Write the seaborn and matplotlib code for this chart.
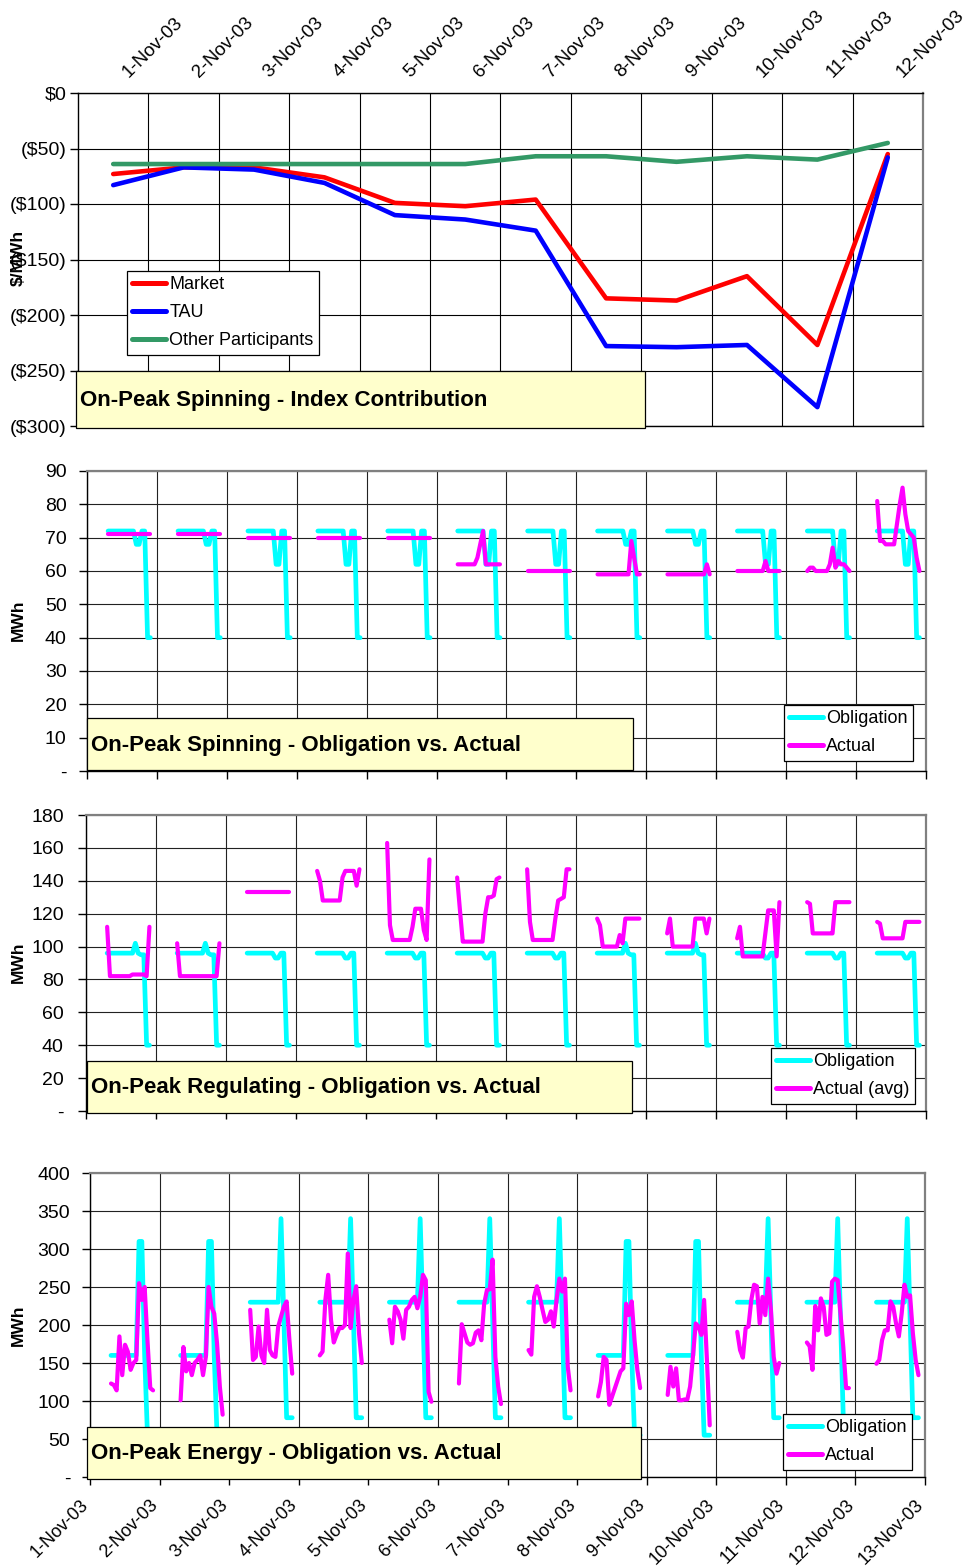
import numpy as np
import pandas as pd
import matplotlib
matplotlib.use("Agg")
import matplotlib.pyplot as plt
import matplotlib.transforms as mtrans
from matplotlib.lines import Line2D
from matplotlib.patches import Rectangle
import seaborn as sns

# ---------------- DATA ----------------
TOP_DAYS = ["1-Nov-03", "2-Nov-03", "3-Nov-03", "4-Nov-03", "5-Nov-03", "6-Nov-03",
            "7-Nov-03", "8-Nov-03", "9-Nov-03", "10-Nov-03", "11-Nov-03", "12-Nov-03"]
BOTTOM_DAYS = TOP_DAYS + ["13-Nov-03"]

market = [-73, -67, -67, -76, -99, -102, -96, -185, -187, -165, -227, -55]
tau = [-83, -67, -69, -81, -110, -114, -124, -228, -229, -227, -283, -58]
other = [-64, -64, -64, -64, -64, -64, -57, -57, -62, -57, -60, -45]

# on-peak hours (16 per day)
HOURS = np.linspace(7.25, 21.75, 16)

SPIN_OBL = [
    [72, 72, 72, 72, 72, 72, 72, 72, 72, 72, 68, 68, 72, 72, 40, 40],
    [72, 72, 72, 72, 72, 72, 72, 72, 72, 72, 68, 68, 72, 72, 40, 40],
    [72, 72, 72, 72, 72, 72, 72, 72, 72, 72, 62, 62, 72, 72, 40, 40],
    [72, 72, 72, 72, 72, 72, 72, 72, 72, 72, 62, 62, 72, 72, 40, 40],
    [72, 72, 72, 72, 72, 72, 72, 72, 72, 72, 62, 62, 72, 72, 40, 40],
    [72, 72, 72, 72, 72, 72, 72, 72, 72, 72, 62, 62, 72, 72, 40, 40],
    [72, 72, 72, 72, 72, 72, 72, 72, 72, 72, 62, 62, 72, 72, 40, 40],
    [72, 72, 72, 72, 72, 72, 72, 72, 72, 72, 68, 68, 72, 72, 40, 40],
    [72, 72, 72, 72, 72, 72, 72, 72, 72, 72, 68, 68, 72, 72, 40, 40],
    [72, 72, 72, 72, 72, 72, 72, 72, 72, 72, 62, 62, 72, 72, 40, 40],
    [72, 72, 72, 72, 72, 72, 72, 72, 72, 72, 62, 62, 72, 72, 40, 40],
    [72, 72, 72, 72, 72, 72, 72, 72, 72, 72, 62, 62, 72, 72, 40, 40],
]
SPIN_ACT = [
    [71, 71, 71, 71, 71, 71, 71, 71, 71, 71, 71, 71, 71, 71, 71, 71],
    [71, 71, 71, 71, 71, 71, 71, 71, 71, 71, 71, 71, 71, 71, 71, 71],
    [70, 70, 70, 70, 70, 70, 70, 70, 70, 70, 70, 70, 70, 70, 70, 70],
    [70, 70, 70, 70, 70, 70, 70, 70, 70, 70, 70, 70, 70, 70, 70, 70],
    [70, 70, 70, 70, 70, 70, 70, 70, 70, 70, 70, 70, 70, 70, 70, 70],
    [62, 62, 62, 62, 62, 62, 62, 64, 68, 72, 62, 62, 62, 62, 62, 62],
    [60, 60, 60, 60, 60, 60, 60, 60, 60, 60, 60, 60, 60, 60, 60, 60],
    [59, 59, 59, 59, 59, 59, 59, 59, 59, 59, 59, 59, 69, 64, 59, 59],
    [59, 59, 59, 59, 59, 59, 59, 59, 59, 59, 59, 59, 59, 59, 62, 59],
    [60, 60, 60, 60, 60, 60, 60, 60, 60, 60, 63, 60, 60, 60, 60, 60],
    [60, 61, 61, 60, 60, 60, 60, 60, 62, 67, 61, 63, 62, 62, 61, 60],
    [81, 69, 69, 68, 68, 68, 68, 74, 80, 85, 77, 72, 71, 70, 64, 60],
]

REG_OBL = [
    [96, 96, 96, 96, 96, 96, 96, 96, 96, 96, 102, 96, 95, 95, 40, 40],
    [96, 96, 96, 96, 96, 96, 96, 96, 96, 96, 102, 96, 95, 95, 40, 40],
    [96, 96, 96, 96, 96, 96, 96, 96, 96, 96, 93, 93, 96, 96, 40, 40],
    [96, 96, 96, 96, 96, 96, 96, 96, 96, 96, 93, 93, 96, 96, 40, 40],
    [96, 96, 96, 96, 96, 96, 96, 96, 96, 96, 93, 93, 96, 96, 40, 40],
    [96, 96, 96, 96, 96, 96, 96, 96, 96, 96, 93, 93, 96, 96, 40, 40],
    [96, 96, 96, 96, 96, 96, 96, 96, 96, 96, 93, 93, 96, 96, 40, 40],
    [96, 96, 96, 96, 96, 96, 96, 96, 96, 96, 102, 96, 95, 95, 40, 40],
    [96, 96, 96, 96, 96, 96, 96, 96, 96, 96, 102, 96, 95, 95, 40, 40],
    [96, 96, 96, 96, 96, 96, 96, 96, 96, 96, 93, 93, 96, 96, 40, 40],
    [96, 96, 96, 96, 96, 96, 96, 96, 96, 96, 93, 93, 96, 96, 40, 40],
    [96, 96, 96, 96, 96, 96, 96, 96, 96, 96, 93, 93, 96, 96, 40, 40],
]
REG_ACT = [
    [112, 82, 82, 82, 82, 82, 82, 82, 82, 83, 83, 83, 83, 83, 82, 112],
    [102, 82, 82, 82, 82, 82, 82, 82, 82, 82, 82, 82, 82, 82, 82, 102],
    [133, 133, 133, 133, 133, 133, 133, 133, 133, 133, 133, 133, 133, 133, 133, 133],
    [146, 140, 128, 128, 128, 128, 128, 128, 128, 142, 146, 146, 146, 146, 137, 147],
    [163, 113, 104, 104, 104, 104, 104, 104, 104, 112, 123, 123, 123, 110, 104, 153],
    [142, 122, 103, 103, 103, 103, 103, 103, 103, 103, 120, 130, 130, 131, 141, 142],
    [147, 115, 104, 104, 104, 104, 104, 104, 104, 104, 117, 128, 129, 130, 147, 147],
    [117, 113, 100, 100, 100, 100, 100, 100, 107, 102, 117, 117, 117, 117, 117, 117],
    [108, 117, 100, 100, 100, 100, 100, 100, 100, 100, 117, 117, 117, 117, 108, 117],
    [105, 112, 94, 94, 94, 94, 94, 94, 94, 94, 108, 122, 122, 122, 94, 127],
    [127, 126, 108, 108, 108, 108, 108, 108, 108, 108, 127, 127, 127, 127, 127, 127],
    [115, 114, 105, 105, 105, 105, 105, 105, 105, 105, 115, 115, 115, 115, 115, 115],
]

EN_OBL = [
    [160, 160, 160, 160, 160, 160, 160, 160, 160, 160, 310, 310, 160, 55, 55, 55],
    [160, 160, 160, 160, 160, 160, 160, 160, 160, 160, 310, 310, 160, 55, 55, 55],
    [230, 230, 230, 230, 230, 230, 230, 230, 230, 230, 230, 340, 210, 78, 78, 78],
    [230, 230, 230, 230, 230, 230, 230, 230, 230, 230, 230, 340, 210, 78, 78, 78],
    [230, 230, 230, 230, 230, 230, 230, 230, 230, 230, 230, 340, 210, 78, 78, 78],
    [230, 230, 230, 230, 230, 230, 230, 230, 230, 230, 230, 340, 210, 78, 78, 78],
    [230, 230, 230, 230, 230, 230, 230, 230, 230, 230, 230, 340, 210, 78, 78, 78],
    [160, 160, 160, 160, 160, 160, 160, 160, 160, 160, 310, 310, 160, 55, 55, 55],
    [160, 160, 160, 160, 160, 160, 160, 160, 160, 160, 310, 310, 160, 55, 55, 55],
    [230, 230, 230, 230, 230, 230, 230, 230, 230, 230, 230, 340, 210, 78, 78, 78],
    [230, 230, 230, 230, 230, 230, 230, 230, 230, 230, 230, 340, 210, 78, 78, 78],
    [230, 230, 230, 230, 230, 230, 230, 230, 230, 230, 230, 340, 210, 78, 78, 78],
]
EN_ACT = [
    [123, 121, 114, 185, 134, 174, 165, 141, 150, 154, 255, 233, 250, 180, 117, 114],
    [101, 171, 139, 150, 134, 150, 154, 160, 134, 158, 250, 224, 215, 176, 119, 82],
    [220, 154, 158, 198, 160, 150, 220, 167, 160, 158, 198, 211, 224, 231, 180, 136],
    [160, 165, 233, 266, 207, 177, 187, 196, 196, 200, 294, 196, 233, 251, 189, 150],
    [207, 176, 224, 218, 207, 182, 220, 224, 233, 237, 222, 237, 266, 259, 112, 99],
    [123, 201, 189, 177, 174, 176, 190, 193, 180, 228, 246, 247, 286, 158, 119, 96],
    [167, 161, 237, 251, 237, 220, 204, 207, 218, 198, 233, 261, 244, 261, 145, 114],
    [106, 125, 158, 154, 95, 106, 117, 128, 139, 143, 228, 213, 231, 180, 141, 117],
    [108, 145, 119, 143, 101, 101, 102, 102, 119, 158, 202, 198, 187, 233, 154, 68],
    [191, 167, 157, 196, 198, 233, 253, 251, 202, 237, 213, 261, 220, 158, 136, 150],
    [177, 172, 141, 225, 193, 235, 224, 187, 189, 257, 261, 259, 215, 171, 117, 117],
    [149, 154, 180, 193, 193, 231, 224, 202, 185, 215, 253, 237, 239, 189, 154, 134],
]

# ---------------- STYLE ----------------
sns.set_theme(style="white")
plt.rcParams["font.family"] = ["Liberation Sans", "DejaVu Sans"]
plt.rcParams["text.color"] = "black"
plt.rcParams["xtick.color"] = "black"
plt.rcParams["ytick.color"] = "black"
plt.rcParams["axes.edgecolor"] = "black"

W, H = 970, 1566
fig = plt.figure(figsize=(W / 100, H / 100), dpi=100)
fig.patch.set_facecolor("white")


def fx(x):
    return x / W


def fy(y):
    return 1 - y / H


def add_axes_px(l, t, r, b):
    return fig.add_axes([fx(l), fy(b), (r - l) / W, (b - t) / H])


def px_offset(dx, dy):
    return mtrans.ScaledTranslation(dx / 100, dy / 100, fig.dpi_scale_trans)


CYAN, MAGENTA = "#00FFFF", "#FF00FF"
TICK_FS = 14
DATE_FS = 13.5
LINE_KW = dict(solid_capstyle="round", solid_joinstyle="round")


def title_box(l, t, r, b, text):
    fig.add_artist(Rectangle((fx(l), fy(b)), (r - l) / W, (b - t) / H,
                             transform=fig.transFigure, facecolor="#FFFFCC",
                             edgecolor="black", lw=0.9, zorder=5))
    fig.text(fx(l + 4), fy((t + b) / 2 + 1), text, ha="left", va="center",
             fontsize=16, fontweight="bold", zorder=6)


def legend_box(ax, l, t, labels, colors):
    handles = [Line2D([0], [0], color=c, lw=3.6, solid_capstyle="round") for c in colors]
    leg = ax.legend(handles, labels, loc="upper left", bbox_to_anchor=(fx(l), fy(t)),
                    bbox_transform=fig.transFigure, frameon=True, fancybox=False,
                    framealpha=1, edgecolor="black", fontsize=13, borderaxespad=0,
                    handlelength=1.85, handletextpad=0.2, borderpad=0.3,
                    labelspacing=0.6)
    leg.get_frame().set_linewidth(0.9)
    leg.set_zorder(10)
    return leg


def style_spines(ax, top_color="#808080"):
    for s in ["left", "bottom"]:
        ax.spines[s].set_color("black")
        ax.spines[s].set_linewidth(1.0)
    for s in ["top", "right"]:
        ax.spines[s].set_color(top_color)
        ax.spines[s].set_linewidth(1.6)


# ---------------- PANEL 1 ----------------
ax1 = add_axes_px(78, 93, 923, 426)
df1 = pd.DataFrame({
    "day": list(range(12)) * 3,
    "value": market + tau + other,
    "series": ["Market"] * 12 + ["TAU"] * 12 + ["Other Participants"] * 12,
})
pal1 = {"Market": "#FF0000", "TAU": "#0000FF", "Other Participants": "#339966"}
sns.lineplot(data=df1, x="day", y="value", hue="series", palette=pal1,
             hue_order=["Market", "TAU", "Other Participants"],
             estimator=None, sort=False, lw=3.3, legend=False, ax=ax1, **LINE_KW)
ax1.set_xlim(-0.5, 11.5)
ax1.set_ylim(-300, 0)
ax1.set_yticks(range(-300, 1, 50))
ax1.set_yticklabels(["\\$0" if v == 0 else "(\\$%d)" % (-v) for v in range(-300, 1, 50)],
                    fontsize=TICK_FS)
ax1.xaxis.tick_top()
ax1.set_xticks(range(12))
ax1.set_xticklabels(TOP_DAYS, fontsize=DATE_FS)
ax1.set_xticks(np.arange(0.5, 11.5, 1), minor=True)
ax1.tick_params(axis="x", which="both", length=0, pad=0)
ax1.tick_params(axis="y", length=6, width=1, direction="out", pad=2, left=True)
for lbl in ax1.get_xticklabels():
    lbl.set_rotation(45)
    lbl.set_ha("left")
    lbl.set_va("bottom")
    lbl.set_rotation_mode("anchor")
    lbl.set_transform(lbl.get_transform() + px_offset(18, 12))
ax1.grid(False)
ax1.grid(which="minor", axis="x", color="black", lw=0.8)
ax1.grid(which="major", axis="y", color="black", lw=0.8)
ax1.set_xlabel("")
ax1.set_ylabel("")
style_spines(ax1)
ax1.spines["top"].set_color("black")
ax1.spines["top"].set_linewidth(1.0)
fig.text(fx(18), fy(258), "\\$/MWh", rotation=90, ha="center", va="center",
         fontsize=12.5, fontweight="bold")
legend_box(ax1, 127, 271, ["Market", "TAU", "Other Participants"],
           ["#FF0000", "#0000FF", "#339966"])
title_box(76, 371, 645, 428, "On-Peak Spinning - Index Contribution")


# ---------------- HOURLY PANELS ----------------
def hourly_frame(days_values, name):
    rows = []
    for d, vals in enumerate(days_values):
        for h, v in zip(HOURS, vals):
            rows.append((d + h / 24.0, v, name, d))
    return pd.DataFrame(rows, columns=["x", "value", "series", "day"])


def hourly_panel(box, obl, act, act_name, ymax, ystep, title, tbox, lbox, ylab_y,
                 ypad, bottom_labels=False):
    ax = add_axes_px(*box)
    dfo = hourly_frame(obl, "Obligation")
    dfa = hourly_frame(act, act_name)
    sns.lineplot(data=dfo, x="x", y="value", units="day", estimator=None, sort=False,
                 color=CYAN, lw=3.4, legend=False, ax=ax, **LINE_KW)
    sns.lineplot(data=dfa, x="x", y="value", units="day", estimator=None, sort=False,
                 color=MAGENTA, lw=3.0, legend=False, ax=ax, **LINE_KW)
    ax.set_xlim(0, 12)
    ax.set_ylim(0, ymax)
    yt = list(range(0, ymax + 1, ystep))
    ax.set_yticks(yt)
    ax.set_yticklabels(["-" if v == 0 else str(v) for v in yt], fontsize=TICK_FS)
    ax.set_xticks(range(13))
    ax.grid(False)
    ax.grid(axis="both", color="#222222", lw=0.8)
    ax.tick_params(axis="y", length=6, width=1, direction="out", pad=ypad, left=True)
    ax.tick_params(axis="x", length=6, width=1, direction="out", bottom=True)
    if bottom_labels:
        ax.set_xticklabels(BOTTOM_DAYS, fontsize=13)
        ax.tick_params(axis="x", pad=0)
        for lbl in ax.get_xticklabels():
            lbl.set_rotation(45)
            lbl.set_ha("right")
            lbl.set_va("top")
            lbl.set_rotation_mode("anchor")
            lbl.set_transform(lbl.get_transform() + px_offset(-10, -11))
    else:
        ax.set_xticklabels([])
    ax.set_xlabel("")
    ax.set_ylabel("")
    style_spines(ax)
    fig.text(fx(18), fy(ylab_y), "MWh", rotation=90, ha="center", va="center",
             fontsize=12.5, fontweight="bold")
    legend_box(ax, lbox[0], lbox[1], ["Obligation", act_name], [CYAN, MAGENTA])
    title_box(*tbox, title)
    return ax


hourly_panel((87, 471, 926, 771), SPIN_OBL, SPIN_ACT, "Actual", 90, 10,
             "On-Peak Spinning - Obligation vs. Actual",
             (87, 718, 633, 770), (784, 705), 620, 8.7)
hourly_panel((86, 815, 926, 1111), REG_OBL, REG_ACT, "Actual (avg)", 180, 20,
             "On-Peak Regulating - Obligation vs. Actual",
             (87, 1061, 632, 1113), (771, 1048), 962, 10)
hourly_panel((90, 1173, 925, 1477), EN_OBL, EN_ACT, "Actual", 400, 50,
             "On-Peak Energy - Obligation vs. Actual",
             (87, 1427, 641, 1479), (783, 1414), 1325, 8.3, bottom_labels=True)

fig.savefig("out.png", dpi=100, facecolor="white")
